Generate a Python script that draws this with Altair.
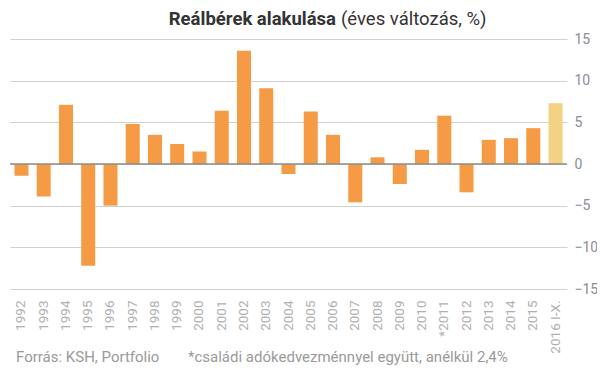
import altair as alt
import pandas as pd

years = ["1992", "1993", "1994", "1995", "1996", "1997", "1998", "1999", "2000",
         "2001", "2002", "2003", "2004", "2005", "2006", "2007", "2008", "2009",
         "2010", "*2011", "2012", "2013", "2014", "2015", "2016 I-X."]
values = [-1.4, -3.9, 7.1, -12.2, -5.0, 4.8, 3.5, 2.4, 1.5,
          6.4, 13.6, 9.1, -1.2, 6.3, 3.5, -4.6, 0.8, -2.4,
          1.7, 5.8, -3.4, 2.9, 3.1, 4.3, 7.3]
kinds = ["full"] * 24 + ["partial"]

title_bold = "Reálbérek alakulása"
title_rest = "(éves változás, %)"
source_note = "Forrás: KSH, Portfolio"
footnote = "*családi adókedvezménnyel együtt, anélkül 2,4%"

df = pd.DataFrame({"year": years, "value": values, "kind": kinds})

FONT = "Roboto"

bars = alt.Chart(df).mark_bar().encode(
    x=alt.X("year:N", sort=years, title=None,
            scale=alt.Scale(paddingInner=0.37, paddingOuter=0.2),
            axis=alt.Axis(labelAngle=270, labelAlign="right", labelBaseline="middle",
                          labelPadding=11, labelColor="#b0b0b0", labelFontSize=13.5,
                          labelFont=FONT, ticks=False, domain=False, grid=False)),
    y=alt.Y("value:Q", title=None,
            scale=alt.Scale(domain=[-15, 15], nice=False),
            axis=alt.Axis(orient="right", values=[-15, -10, -5, 0, 5, 10, 15],
                          labelColor="#8a8c96", labelFontSize=14, labelFont=FONT,
                          labelPadding=7, labelAlign="left", ticks=False, domain=False,
                          grid=True, gridColor="#d0d0d0", gridWidth=1.2)),
    color=alt.Color("kind:N", legend=None,
                    scale=alt.Scale(domain=["full", "partial"], range=["#F59B45", "#F3D283"])),
)

zero = alt.Chart(pd.DataFrame({"z": [0]})).mark_rule(color="#8c8c8c", strokeWidth=1.5).encode(
    y="z:Q"
)

t1 = alt.Chart(pd.DataFrame({"t": [title_bold]})).mark_text(
    font=FONT, fontSize=18.5, fontWeight="bold", color="#333333", align="right", baseline="alphabetic"
).encode(text="t:N", x=alt.value(326), y=alt.value(-14))

t2 = alt.Chart(pd.DataFrame({"t": [title_rest]})).mark_text(
    font=FONT, fontSize=18.5, color="#333333", align="left", baseline="alphabetic"
).encode(text="t:N", x=alt.value(331), y=alt.value(-14))

f1 = alt.Chart(pd.DataFrame({"t": [source_note]})).mark_text(
    font=FONT, fontSize=15, color="#9a9a9a", align="left", baseline="alphabetic"
).encode(text="t:N", x=alt.value(6), y=alt.value(323))

f2 = alt.Chart(pd.DataFrame({"t": [footnote]})).mark_text(
    font=FONT, fontSize=15, color="#9a9a9a", align="left", baseline="alphabetic"
).encode(text="t:N", x=alt.value(178), y=alt.value(323))

chart = alt.layer(bars, zero, t1, t2, f1, f2).properties(
    width=557, height=250,
    autosize=alt.AutoSizeParams(type="none"),
    padding={"left": 2, "top": 31, "right": 30, "bottom": 78},
).configure(background="white").configure_view(stroke=None)

chart.save("out.html", embed_options={"renderer": "svg", "actions": False})
